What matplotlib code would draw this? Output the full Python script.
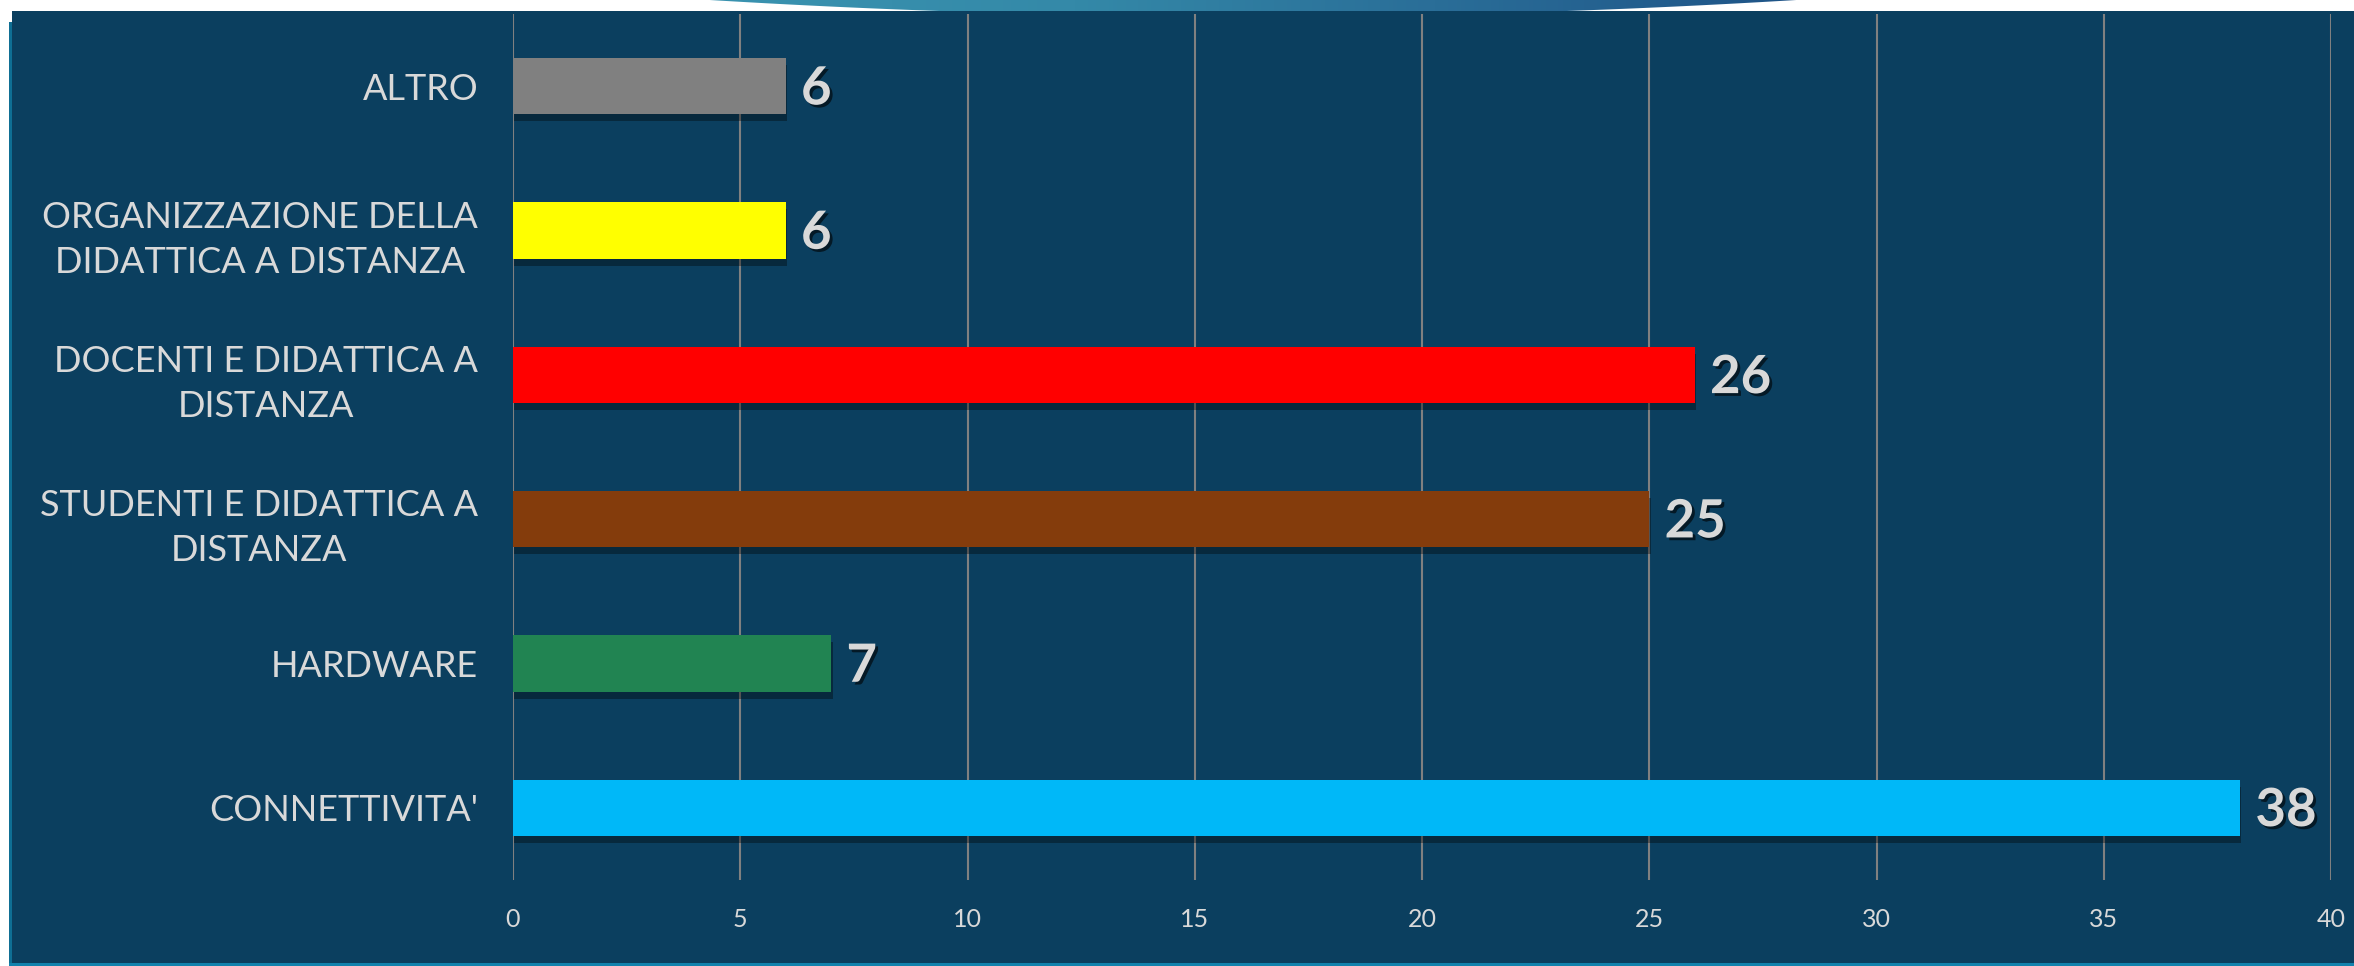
import matplotlib
matplotlib.use('Agg')
import matplotlib.pyplot as plt
import matplotlib.patheffects as pe
from matplotlib.patches import Rectangle, Polygon
from matplotlib.colors import LinearSegmentedColormap
import numpy as np

plt.rcParams['font.family'] = ['Lato', 'DejaVu Sans']

# ---- data ----
categories = ["CONNETTIVITA'", 'HARDWARE', 'STUDENTI E DIDATTICA A\nDISTANZA',
              'DOCENTI E DIDATTICA A\nDISTANZA', 'ORGANIZZAZIONE DELLA\nDIDATTICA A DISTANZA', 'ALTRO']
values = [38, 7, 25, 26, 6, 6]
bar_colors = ['#00B8F8', '#218452', '#843C0C', '#FF0000', '#FFFF00', '#808080']
x_ticks = [0, 5, 10, 15, 20, 25, 30, 35, 40]

W, H = 2354, 966
NAVY = '#0B3F5F'
TEXT = '#D9D9D9'

fig = plt.figure(figsize=(W / 100, H / 100), dpi=100, facecolor='white')

# background panel and borders (drawn in a full-figure axes behind everything)
bg = fig.add_axes([0, 0, 1, 1], zorder=-10)
bg.axis('off')
bg.add_patch(Rectangle((12, 11), W - 12, 952, facecolor=NAVY, edgecolor='none'))
bg.add_patch(Rectangle((9, 22), 3, H - 22, facecolor='#0F6F94', edgecolor='none'))
bg.add_patch(Rectangle((9, H - 3), W - 9, 3, facecolor='#1282AD', edgecolor='none'))

# top decorative shape
xs = np.linspace(710, 1796, 200)
ys = np.minimum(16.5 - 5.587e-5 * (xs - 1253) ** 2, 11)
poly = Polygon(np.column_stack([np.r_[xs, xs[::-1]], np.r_[ys, np.zeros_like(ys)]]),
               closed=True, facecolor='none', edgecolor='none')
bg.add_patch(poly)
grad = np.linspace(0, 1, 256).reshape(1, -1)
cmap = LinearSegmentedColormap.from_list('g', ['#3A93B0', '#3489A8', '#2A6E98', '#1F5487'])
im = bg.imshow(grad, extent=[710, 1796, 11, 0], aspect='auto', cmap=cmap)
im.set_clip_path(poly)
bg.set_xlim(0, W)
bg.set_ylim(H, 0)

# main axes
ax = fig.add_axes([513 / W, 86 / H, 1818 / W, 866 / H], zorder=5)
ax.set_facecolor('none')
bar_fx = [pe.SimplePatchShadow(offset=(1, -5), shadow_rgbFace='black', alpha=0.35), pe.Normal()]
ypos = np.arange(len(categories))
bars = ax.barh(ypos, values, height=0.39, color=bar_colors, zorder=3)
for b in bars:
    b.set_path_effects(bar_fx)

ax.set_xlim(0, 40)
ax.set_ylim(-0.5, 5.5)
ax.set_xticks(x_ticks)
ax.set_xticklabels([str(t) for t in x_ticks])
ax.set_yticks(ypos)
ax.set_yticklabels(categories)
ax.grid(axis='x', color='#808080', linewidth=1.5, zorder=1)
ax.grid(axis='y', visible=False)
ax.set_axisbelow(True)
for s in ax.spines.values():
    s.set_visible(False)
ax.tick_params(axis='x', length=0, pad=20, labelsize=18, labelcolor=TEXT)
ax.tick_params(axis='y', length=0, pad=25, labelsize=26, labelcolor=TEXT)
for lab in ax.get_xticklabels():
    lab.set_fontweight('normal')
for lab in ax.get_yticklabels():
    lab.set_fontweight('normal')
    lab.set_multialignment('center')
    lab.set_linespacing(1.45)

txt_fx = [pe.SimplePatchShadow(offset=(2, -2), shadow_rgbFace='black', alpha=0.6), pe.Normal()]
for i, v in enumerate(values):
    ax.annotate(str(v), xy=(v, i), xytext=(11, -2), textcoords='offset points',
                va='center', ha='left', fontsize=38, fontweight='bold', color=TEXT,
                path_effects=txt_fx, zorder=4)

fig.savefig('out.png', dpi=100, facecolor='white')
